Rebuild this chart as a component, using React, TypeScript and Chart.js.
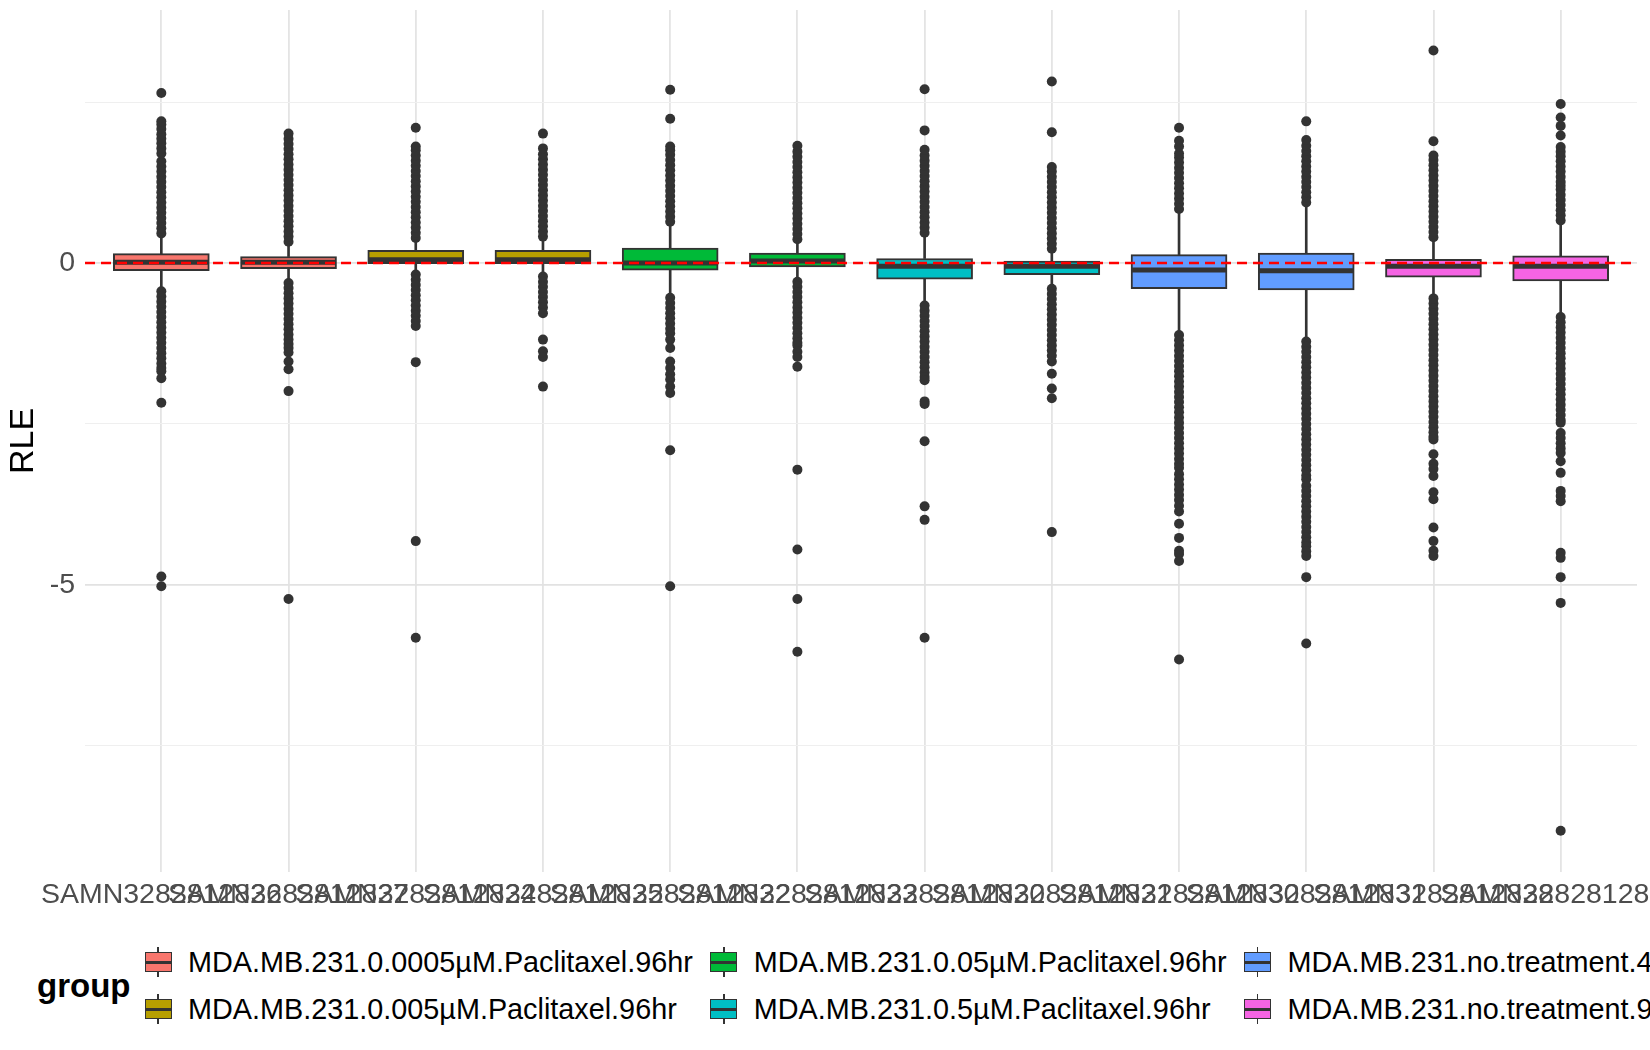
import { useEffect, useRef } from 'react';
import { Chart, registerables } from 'chart.js';

Chart.register(...registerables);

const FONT = "'Liberation Sans', Arial, sans-serif";

const sampleLabels = [
  'SAMN3282812826', 'SAMN3282812827', 'SAMN3282812824', 'SAMN3282812825',
  'SAMN3282812822', 'SAMN3282812823', 'SAMN3282812820', 'SAMN3282812821',
  'SAMN3282812830', 'SAMN3282812831', 'SAMN3282812828', 'SAMN3282812829'
];

const groupNames = [
  'MDA.MB.231.0.0005µM.Paclitaxel.96hr',
  'MDA.MB.231.0.005µM.Paclitaxel.96hr',
  'MDA.MB.231.0.05µM.Paclitaxel.96hr',
  'MDA.MB.231.0.5µM.Paclitaxel.96hr',
  'MDA.MB.231.no.treatment.48hr',
  'MDA.MB.231.no.treatment.96hr'
];
const groupColors = ['#F8766D', '#B79F00', '#00BA38', '#00BFC4', '#619CFF', '#F564E3'];
const sampleGroup = [0, 0, 1, 1, 2, 2, 3, 3, 4, 4, 5, 5];

// box statistics per sample
const q1Values = [-0.12, -0.09, -0.01, -0.01, -0.11, -0.06, -0.25, -0.18, -0.40, -0.42, -0.22, -0.28];
const medianValues = [0.01, 0.01, 0.05, 0.05, 0.0, 0.03, -0.05, -0.05, -0.11, -0.12, -0.05, -0.05];
const q3Values = [0.145, 0.10, 0.195, 0.195, 0.23, 0.155, 0.07, 0.03, 0.13, 0.155, 0.057, 0.11];
const whiskerLow = [-0.40, -0.28, -0.15, -0.18, -0.50, -0.26, -0.62, -0.37, -1.08, -1.18, -0.52, -0.80];
const whiskerHigh = [0.42, 0.30, 0.36, 0.38, 0.60, 0.34, 0.44, 0.19, 0.80, 0.90, 0.37, 0.62];

// outliers
const out26 = [
  0.46, 0.54, 0.62, 0.70, 0.78, 0.86, 0.94, 1.02, 1.10, 1.18, 1.26, 1.34, 1.42, 1.50, 1.58, 1.70, 1.78, 1.86,
  1.93, 2.00, 2.08, 2.15, 2.20, 2.64,
  -0.44, -0.52, -0.60, -0.68, -0.76, -0.84, -0.92, -1.00, -1.08, -1.16, -1.24, -1.32, -1.40, -1.48, -1.56,
  -1.63, -1.68, -1.79, -2.17, -4.87, -5.02
];
const out27 = [
  0.33, 0.41, 0.49, 0.57, 0.65, 0.73, 0.81, 0.89, 0.97, 1.05, 1.13, 1.21, 1.29, 1.37, 1.45, 1.53, 1.61, 1.69,
  1.77, 1.85, 1.93, 2.01,
  -0.31, -0.39, -0.47, -0.55, -0.63, -0.71, -0.79, -0.87, -0.95, -1.03, -1.11, -1.19, -1.26, -1.32, -1.39,
  -1.53, -1.65, -1.99, -5.22
];
const out24 = [
  0.39, 0.47, 0.55, 0.63, 0.71, 0.79, 0.87, 0.95, 1.03, 1.11, 1.19, 1.27, 1.35, 1.43, 1.51, 1.59, 1.67, 1.75,
  1.81, 2.10,
  -0.18, -0.26, -0.34, -0.42, -0.50, -0.58, -0.66, -0.74, -0.82, -0.90, -0.98, -1.54, -4.32, -5.82
];
const out25 = [
  0.41, 0.49, 0.57, 0.65, 0.73, 0.81, 0.89, 0.97, 1.05, 1.13, 1.21, 1.29, 1.37, 1.45, 1.53, 1.61, 1.69, 1.78,
  2.01,
  -0.21, -0.29, -0.37, -0.45, -0.53, -0.61, -0.69, -0.78, -1.19, -1.37, -1.46, -1.92
];
const out22 = [
  0.64, 0.72, 0.80, 0.88, 0.96, 1.04, 1.12, 1.20, 1.28, 1.36, 1.44, 1.52, 1.60, 1.68, 1.75, 1.81, 2.24, 2.69,
  -0.54, -0.62, -0.70, -0.78, -0.86, -0.94, -1.02, -1.09, -1.19, -1.32, -1.53, -1.63, -1.73, -1.81, -1.92,
  -2.02, -2.91, -5.02
];
const out23 = [
  0.37, 0.45, 0.53, 0.61, 0.69, 0.77, 0.85, 0.93, 1.01, 1.09, 1.17, 1.25, 1.33, 1.41, 1.49, 1.57, 1.65, 1.73,
  1.82,
  -0.29, -0.37, -0.45, -0.53, -0.61, -0.69, -0.77, -0.85, -0.93, -1.01, -1.09, -1.17, -1.24, -1.28, -1.38,
  -1.46, -1.61, -3.21, -4.45, -5.22, -6.04
];
const out20 = [
  0.47, 0.55, 0.63, 0.71, 0.79, 0.87, 0.95, 1.03, 1.11, 1.19, 1.27, 1.35, 1.43, 1.51, 1.59, 1.67, 1.76, 2.06,
  2.70,
  -0.66, -0.74, -0.82, -0.90, -0.98, -1.06, -1.14, -1.22, -1.30, -1.38, -1.46, -1.54, -1.62, -1.70, -1.77,
  -1.82, -2.15, -2.19, -2.77, -3.78, -3.99, -5.82
];
const out21 = [
  0.22, 0.30, 0.38, 0.46, 0.54, 0.62, 0.70, 0.78, 0.86, 0.94, 1.02, 1.10, 1.18, 1.26, 1.34, 1.42, 1.49, 2.03,
  2.82,
  -0.40, -0.48, -0.56, -0.64, -0.72, -0.80, -0.88, -0.96, -1.04, -1.12, -1.20, -1.28, -1.36, -1.44, -1.53,
  -1.72, -1.95, -2.10, -4.18
];
const out30 = [
  0.84, 0.92, 1.00, 1.08, 1.16, 1.24, 1.32, 1.40, 1.48, 1.56, 1.64, 1.70, 1.81, 1.90, 2.10,
  -1.12, -1.20, -1.28, -1.36, -1.44, -1.52, -1.60, -1.68, -1.76, -1.84, -1.92, -2.00, -2.08, -2.16, -2.24,
  -2.32, -2.40, -2.48, -2.56, -2.64, -2.72, -2.80, -2.88, -2.96, -3.04, -3.12, -3.18, -3.28, -3.36, -3.44,
  -3.52, -3.60, -3.68, -3.77, -3.86, -4.05, -4.27, -4.47, -4.52, -4.63, -6.16
];
const out31 = [
  0.94, 1.02, 1.10, 1.18, 1.26, 1.34, 1.42, 1.50, 1.58, 1.66, 1.74, 1.82, 1.91, 2.20,
  -1.22, -1.30, -1.38, -1.46, -1.54, -1.62, -1.70, -1.78, -1.86, -1.94, -2.02, -2.10, -2.18, -2.26, -2.34,
  -2.42, -2.50, -2.58, -2.66, -2.74, -2.82, -2.90, -2.98, -3.06, -3.14, -3.22, -3.30, -3.36, -3.46, -3.54,
  -3.62, -3.70, -3.78, -3.86, -3.94, -4.02, -4.10, -4.18, -4.26, -4.34, -4.40, -4.48, -4.55, -4.88, -5.91
];
const out28 = [
  0.40, 0.48, 0.56, 0.64, 0.72, 0.80, 0.88, 0.96, 1.04, 1.12, 1.20, 1.28, 1.36, 1.44, 1.52, 1.60, 1.67, 1.89,
  3.30,
  -0.55, -0.63, -0.71, -0.79, -0.87, -0.95, -1.03, -1.11, -1.19, -1.27, -1.35, -1.43, -1.51, -1.59, -1.67,
  -1.75, -1.83, -1.91, -1.99, -2.07, -2.15, -2.23, -2.31, -2.39, -2.47, -2.55, -2.63, -2.70, -2.74, -2.97,
  -3.12, -3.20, -3.31, -3.56, -3.67, -4.11, -4.32, -4.47, -4.55
];
const out29 = [
  0.66, 0.74, 0.82, 0.90, 0.98, 1.06, 1.14, 1.20, 1.26, 1.34, 1.42, 1.50, 1.58, 1.66, 1.73, 1.80, 1.98, 2.13,
  2.26, 2.47,
  -0.84, -0.92, -1.00, -1.08, -1.16, -1.24, -1.32, -1.40, -1.48, -1.56, -1.64, -1.72, -1.80, -1.88, -1.96,
  -2.04, -2.12, -2.20, -2.28, -2.36, -2.44, -2.48, -2.64, -2.72, -2.80, -2.88, -2.95, -3.08, -3.26, -3.54,
  -3.62, -3.70, -4.50, -4.58, -4.88, -5.28, -8.82
];
const outlierValues = [out26, out27, out24, out25, out22, out23, out20, out21, out30, out31, out28, out29];

const yTickValues = [-7.5, -5, -2.5, 0, 2.5];
const yLabelValues = [-5, 0];
const refLineValue = 0;

const refLinePlugin = {
  id: 'refLine',
  afterDatasetsDraw(chart: Chart) {
    const { ctx, chartArea, scales } = chart;
    const y = scales.y.getPixelForValue(refLineValue);
    ctx.save();
    ctx.strokeStyle = '#ff0000';
    ctx.lineWidth = 2.5;
    ctx.setLineDash([10, 6]);
    ctx.beginPath();
    ctx.moveTo(chartArea.left, y);
    ctx.lineTo(chartArea.right, y);
    ctx.stroke();
    ctx.restore();
  }
};

function KeyGlyph({ color }: { color: string }) {
  return (
    <div style={{ position: 'relative', width: 36, height: 30, flex: 'none' }}>
      <div style={{ position: 'absolute', left: 17.25, top: 0, width: 1.5, height: 30, background: '#333333' }} />
      <div
        style={{
          position: 'absolute', left: 4.5, top: 5, width: 27, height: 20, boxSizing: 'border-box',
          background: color, border: '1.5px solid #333333'
        }}
      />
      <div style={{ position: 'absolute', left: 4.5, top: 13.5, width: 27, height: 3, background: '#333333' }} />
    </div>
  );
}

export default function App() {
  const chartRef = useRef<HTMLCanvasElement>(null);
  const chartInstance = useRef<Chart | null>(null);

  useEffect(() => {
    document.body.style.margin = '0';
    if (!chartRef.current) return;
    const ctx = chartRef.current.getContext('2d');
    if (!ctx) return;

    if (chartInstance.current) {
      chartInstance.current.destroy();
      chartInstance.current = null;
    }

    const outlierPoints = outlierValues.flatMap((vals, i) => vals.map((v) => ({ x: i, y: v })));

    chartInstance.current = new Chart(ctx, {
      type: 'bar',
      data: {
        datasets: [
          {
            type: 'scatter',
            label: 'median',
            data: medianValues.map((v, i) => ({ x: i, y: v })),
            pointStyle: 'line',
            pointRadius: 47,
            pointBorderWidth: 5,
            pointBorderColor: '#333333',
            order: 0
          },
          {
            type: 'bar',
            label: 'box',
            data: sampleLabels.map((_, i) => ({ x: i, y: [q1Values[i], q3Values[i]] })),
            backgroundColor: sampleGroup.map((g) => groupColors[g]),
            borderColor: '#333333',
            borderWidth: 2,
            borderSkipped: false,
            barThickness: 96,
            grouped: false,
            order: 1
          },
          {
            type: 'bar',
            label: 'lower whisker',
            data: whiskerLow.map((v, i) => ({ x: i, y: [v, q1Values[i]] })),
            backgroundColor: '#333333',
            borderWidth: 0,
            barThickness: 2,
            grouped: false,
            order: 2
          },
          {
            type: 'bar',
            label: 'upper whisker',
            data: whiskerHigh.map((v, i) => ({ x: i, y: [q3Values[i], v] })),
            backgroundColor: '#333333',
            borderWidth: 0,
            barThickness: 2,
            grouped: false,
            order: 2
          },
          {
            type: 'scatter',
            label: 'outliers',
            data: outlierPoints,
            pointRadius: 5,
            pointBackgroundColor: '#333333',
            pointBorderWidth: 0,
            order: 3
          }
        ] as any
      },
      options: {
        animation: false,
        responsive: false,
        events: [],
        layout: { autoPadding: false, padding: { left: 0, right: 13, top: 10, bottom: 0 } },
        plugins: {
          legend: { display: false },
          tooltip: { enabled: false }
        },
        scales: {
          x: {
            type: 'linear',
            min: -0.6,
            max: 11.6,
            offset: false,
            afterBuildTicks: (scale: any) => {
              scale.ticks = sampleLabels.map((_, i) => ({ value: i }));
            },
            afterFit: (scale: any) => {
              scale.height = 58;
              scale.paddingLeft = 0;
              scale.paddingRight = 0;
            },
            ticks: {
              autoSkip: false,
              maxRotation: 0,
              minRotation: 0,
              padding: 6,
              color: '#4d4d4d',
              font: { family: FONT, size: 28.5 },
              callback: (value: any) => sampleLabels[value] ?? ''
            },
            grid: { color: '#e4e4e4', lineWidth: 1.8, drawTicks: false, offset: false },
            border: { display: false }
          },
          y: {
            min: -9.46,
            max: 3.93,
            afterBuildTicks: (scale: any) => {
              scale.ticks = yTickValues.map((v) => ({ value: v }));
            },
            afterFit: (scale: any) => {
              scale.width = 85;
              scale.paddingTop = 0;
              scale.paddingBottom = 0;
            },
            ticks: {
              padding: 10,
              color: '#4d4d4d',
              font: { family: FONT, size: 28.5 },
              callback: (value: any) => (yLabelValues.includes(value) ? String(value) : '')
            },
            grid: {
              color: (c: any) => (yLabelValues.includes(c.tick?.value) ? '#e2e2e2' : '#efefef'),
              lineWidth: (c: any) => (yLabelValues.includes(c.tick?.value) ? 1.8 : 1.1),
              drawTicks: false
            },
            border: { display: false },
            title: {
              display: true,
              text: 'RLE',
              color: '#000000',
              font: { family: FONT, size: 34 },
              padding: { top: 3, bottom: 0 }
            }
          }
        }
      } as any,
      plugins: [refLinePlugin]
    });

    return () => {
      if (chartInstance.current) {
        chartInstance.current.destroy();
        chartInstance.current = null;
      }
    };
  }, []);

  return (
    <div style={{ position: 'relative', width: 1650, height: 1050, overflow: 'hidden', background: '#ffffff' }}>
      <canvas ref={chartRef} width={1650} height={930} style={{ display: 'block' }}></canvas>
      <div
        style={{
          position: 'absolute', left: 37, top: 942, display: 'flex', alignItems: 'center',
          fontFamily: FONT, whiteSpace: 'nowrap', color: '#000000'
        }}
      >
        <div style={{ width: 103, fontWeight: 'bold', fontSize: 33 }}>group</div>
        <div style={{ display: 'grid', gridTemplateRows: '40px 40px', gridAutoFlow: 'column', rowGap: 7, columnGap: 13 }}>
          {groupNames.map((name, i) => (
            <div key={name} style={{ display: 'flex', alignItems: 'center', height: 40 }}>
              <KeyGlyph color={groupColors[i]} />
              <span style={{ marginLeft: 12, fontSize: 28.8 }}>{name}</span>
            </div>
          ))}
        </div>
      </div>
    </div>
  );
}
